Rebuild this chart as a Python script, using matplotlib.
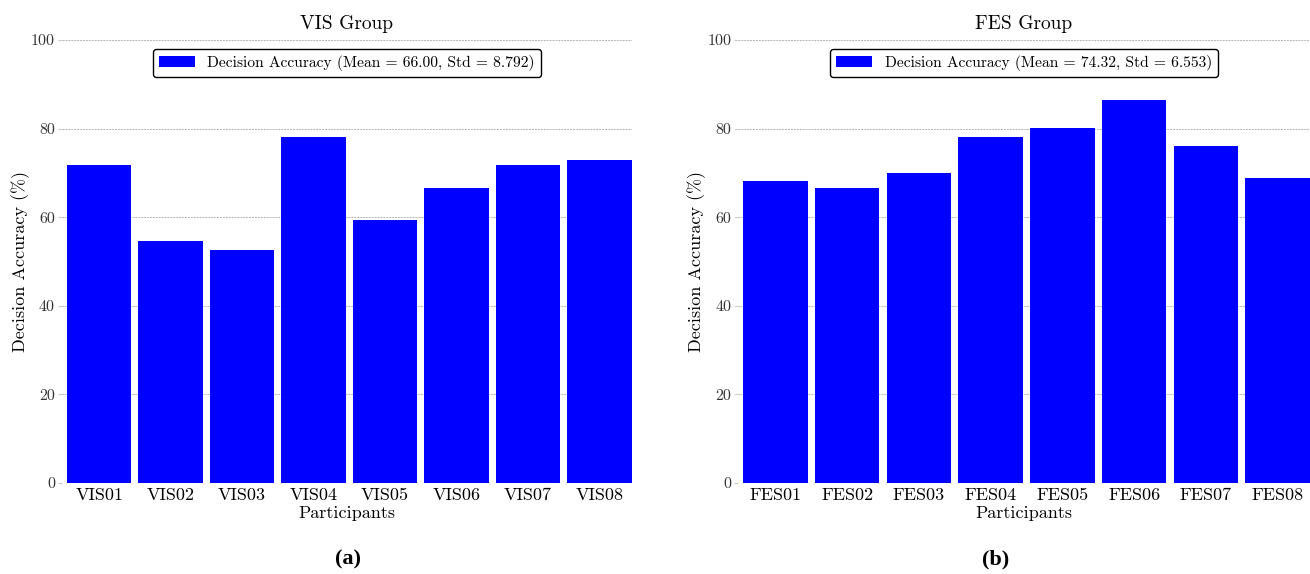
import numpy as np
import matplotlib
matplotlib.use("Agg")
import matplotlib.pyplot as plt

plt.rcParams['font.family'] = ['serif']
plt.rcParams['font.serif'] = ['cmr10', 'DejaVu Serif']
plt.rcParams['axes.unicode_minus'] = False
plt.rcParams['mathtext.fontset'] = 'cm'

# data
vis_labels = ['VIS01', 'VIS02', 'VIS03', 'VIS04', 'VIS05', 'VIS06', 'VIS07', 'VIS08']
vis_acc = [71.88, 54.69, 52.50, 78.13, 59.38, 66.67, 71.88, 72.92]
fes_labels = ['FES01', 'FES02', 'FES03', 'FES04', 'FES05', 'FES06', 'FES07', 'FES08']
fes_acc = [68.23, 66.67, 70.00, 78.13, 80.21, 86.46, 76.04, 68.75]
titles = ['VIS Group', 'FES Group']
legend_texts = ['Decision Accuracy (Mean = 66.00, Std = 8.792)',
                'Decision Accuracy (Mean = 74.32, Std = 6.553)']
sub_labels = ['(a)', '(b)']
yticks = [0, 20, 40, 60, 80, 100]

fig = plt.figure(figsize=(13.1, 5.74), dpi=100)
ax1 = fig.add_axes([0.0473, 0.1585, 0.435, 0.772])
ax2 = fig.add_axes([0.5634, 0.1585, 0.4366, 0.772])

panels = [(ax1, vis_labels, vis_acc), (ax2, fes_labels, fes_acc)]
sub_x = [0.266, 0.760]

for i, (ax, labels, acc) in enumerate(panels):
    x = np.arange(len(labels))
    ax.bar(x, acc, width=0.9, color='#0000ff', label=legend_texts[i], zorder=2)
    ax.set_xlim(-0.52, 7.45)
    ax.set_ylim(0, 100)
    ax.set_xticks(x)
    ax.set_xticklabels(labels, fontsize=13)
    ax.set_yticks(yticks)
    ax.set_yticklabels([str(t) for t in yticks], fontsize=11.5, color='#333333')
    ax.tick_params(axis='x', length=0, pad=3)
    ax.tick_params(axis='y', length=3, color='#cccccc', pad=2)
    for s in ax.spines.values():
        s.set_visible(False)
    ax.grid(axis='y', linestyle=(0, (2, 1)), color='#b5b5b5', linewidth=0.7, zorder=0)
    ax.set_axisbelow(True)
    ax.set_title(titles[i], fontsize=14, pad=8)
    ax.set_xlabel('Participants', fontsize=13, labelpad=2)
    ax.set_ylabel('Decision Accuracy (%)', fontsize=13, labelpad=1)
    leg = ax.legend(loc='upper center', bbox_to_anchor=(0.5, 0.998), fontsize=11.2,
                    frameon=True, fancybox=True, handlelength=2.3, borderpad=0.4)
    leg.get_frame().set_edgecolor('black')
    leg.get_frame().set_linewidth(1.0)
    leg.get_frame().set_alpha(1)

    fig.text(sub_x[i], 0.008, sub_labels[i], ha='center', va='bottom',
             fontsize=16, fontweight='bold', family='Liberation Serif')

fig.savefig('out.png', dpi=100)
